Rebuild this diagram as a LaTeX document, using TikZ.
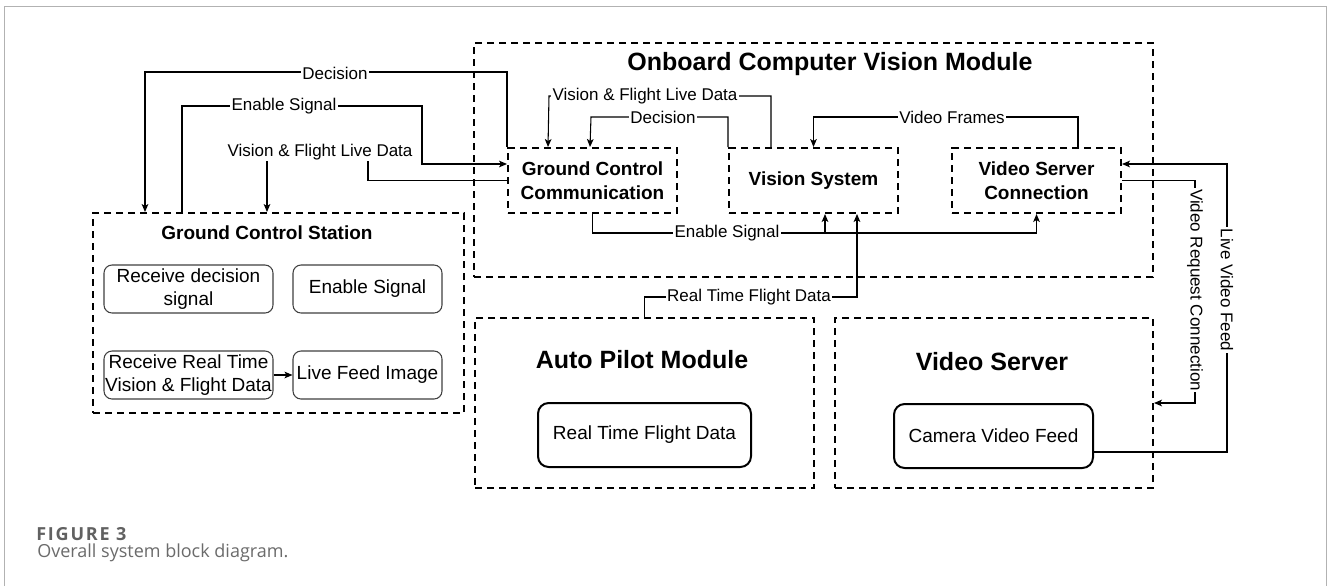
\documentclass[tikz,border=0pt]{standalone}
\usepackage{fontspec}
\setmainfont{Liberation Sans}
\newfontfamily\capfont{Open Sans}
\newfontfamily\capfontsp[LetterSpace=10]{Open Sans}
\usetikzlibrary{arrows.meta,calc}
\newcommand\fsLbl{\fontsize{12.75pt}{15pt}\selectfont}
\newcommand\fsBox{\fontsize{14.25pt}{16.75pt}\selectfont}
\newcommand\fsMid{\bfseries\fontsize{14.25pt}{18pt}\selectfont}
\newcommand\fsBig{\bfseries\fontsize{18.75pt}{22pt}\selectfont}
\begin{document}
\begin{tikzpicture}[x=0.75pt,y=-0.75pt,
  conn/.style={draw, line width=0.8pt, -{Stealth[length=6pt,width=5pt,inset=1.5pt]}},
  dbox/.style={draw, line width=1.5pt, dash pattern=on 5.5pt off 3.5pt, inner sep=0pt},
  gbox/.style={draw=black!75, line width=0.8pt, rounded corners=6pt, inner sep=0pt, align=center, font=\fsBox},
  rbox/.style={draw, line width=1.5pt, rounded corners=8pt, inner sep=0pt, align=center, font=\fsBox},
  lbl/.style={fill=white, inner sep=1pt, font=\fsLbl},
  ttl/.style={inner sep=0pt, font=\fsBig},
  ttlmid/.style={inner sep=0pt, font=\fsMid}]
\useasboundingbox (0,0) rectangle (1328,586);
\fill[white] (0,0) rectangle (1328,586);
\draw[black!30, line width=0.75pt] (4,586) -- (4,6) -- (1326,6) -- (1326,586);

% containers
\node[dbox, minimum width=278.25pt, minimum height=150pt] (GCS) at (278.5,313) {};
\node[dbox, minimum width=509.25pt, minimum height=175.5pt] (OB) at (813.5,160) {};
\node[dbox, minimum width=254.25pt, minimum height=127.5pt] (AP) at (644.5,403) {};
\node[dbox, minimum width=238.5pt, minimum height=127.5pt] (VSrv) at (994,403) {};

% titles
\node[ttl] (OBt) at (830,64) {Onboard Computer Vision Module};
\node[ttlmid] (GCSt) at (267,233) {Ground Control Station};
\node[ttl] (APt) at (642,360) {Auto Pilot Module};
\node[ttl] (VSrvt) at (992,362) {Video Server};

% onboard blocks
\node[dbox, minimum width=126.75pt, minimum height=48.75pt, align=center, font=\fsMid] (GCC) at (592.5,180.5) {Ground Control\\Communication};
\node[dbox, minimum width=126.75pt, minimum height=48.75pt, align=center, font=\fsMid] (VS) at (813.5,180.5) {Vision System};
\node[dbox, minimum width=126.75pt, minimum height=48.75pt, align=center, font=\fsMid] (VSC) at (1036.5,180.5) {Video Server\\Connection};

% inner boxes
\node[rbox, minimum width=159.75pt, minimum height=48pt] (RTFD) at (644.5,435) {Real Time Flight Data};
\node[rbox, minimum width=149.25pt, minimum height=48pt] (CVF) at (993.5,436) {Camera Video Feed};
\node[gbox, minimum width=126.75pt, minimum height=36pt] (RDS) at (188.5,289) {Receive decision\\signal};
\node[gbox, minimum width=111.75pt, minimum height=36pt] (ES) at (367.5,289) {Enable Signal};
\node[gbox, minimum width=126.75pt, minimum height=36pt] (RRT) at (188.5,375) {Receive Real Time\\Vision \& Flight Data};
\node[gbox, minimum width=111.75pt, minimum height=36pt] (LFI) at (367.5,375) {Live Feed Image};

% connectors
\draw[conn] (RRT) -- (LFI);
\draw[conn] (GCC.north west) -- ++(0,-75) -| ([xshift=39.75pt]GCS.north west);
\draw[conn] ([xshift=67.5pt]GCS.north west) |- (422,106) |- ([yshift=12.375pt]GCC.west);
\draw[conn] (GCC.west) -| (368,152) -| ([xshift=131.25pt]GCS.north west);
\draw[conn] ([xshift=32.25pt]VS.north west) |- (549,96) -- ([xshift=30.75pt]GCC.north west);
\draw[conn] (VS.north west) |- (591,117) -- ([xshift=62.25pt]GCC.north west);
\draw[conn] ([xshift=95.25pt]VSC.north west) |- (VS.north |- 0,117) -- (VS.north);
\draw[conn] (GCC.south) |- (VSC.south |- 0,233) -- (VSC.south);
\draw[conn] ([xshift=8.625pt]VS.south |- 0,233) -- ([xshift=8.625pt]VS.south);
\draw[conn] (AP.north) |- ([xshift=32.625pt]VS.south |- 0,297) -- ([xshift=32.625pt]VS.south);
\draw[conn] ([yshift=-12pt]CVF.east) -| (1227,164) -- ([yshift=12.375pt]VSC.east);
\draw[conn] (VSC.east) -| (1195,403) -- (VSrv.east);

% labels
\node[lbl] (l1) at (335,73) {Decision};
\node[lbl] (l2) at (284,106) {Enable Signal};
\node[lbl] (l3) at (320,152) {Vision \& Flight Live Data};
\node[lbl] (l4) at (645,96) {Vision \& Flight Live Data};
\node[lbl] (l5) at (663,117) {Decision};
\node[lbl] (l6) at (952,117) {Video Frames};
\node[lbl] (l7) at (727,233) {Enable Signal};
\node[lbl] (l8) at (749,297) {Real Time Flight Data};
\node[lbl, rotate=-90] (l9) at (1227,290) {Live Video Feed};
\node[lbl, rotate=-90] (l10) at (1195,290) {Video Request Connection};

% caption
\node[anchor=west, inner sep=0pt, text=black!62, font=\capfontsp\bfseries\fontsize{13.5pt}{15pt}\selectfont] (cap1) at (36,534) {FIGURE 3};
\node[anchor=west, inner sep=0pt, text=black!58, font=\capfont\fontsize{13.5pt}{16pt}\selectfont] (cap2) at (37,553) {Overall system block diagram.};
\end{tikzpicture}
\end{document}
